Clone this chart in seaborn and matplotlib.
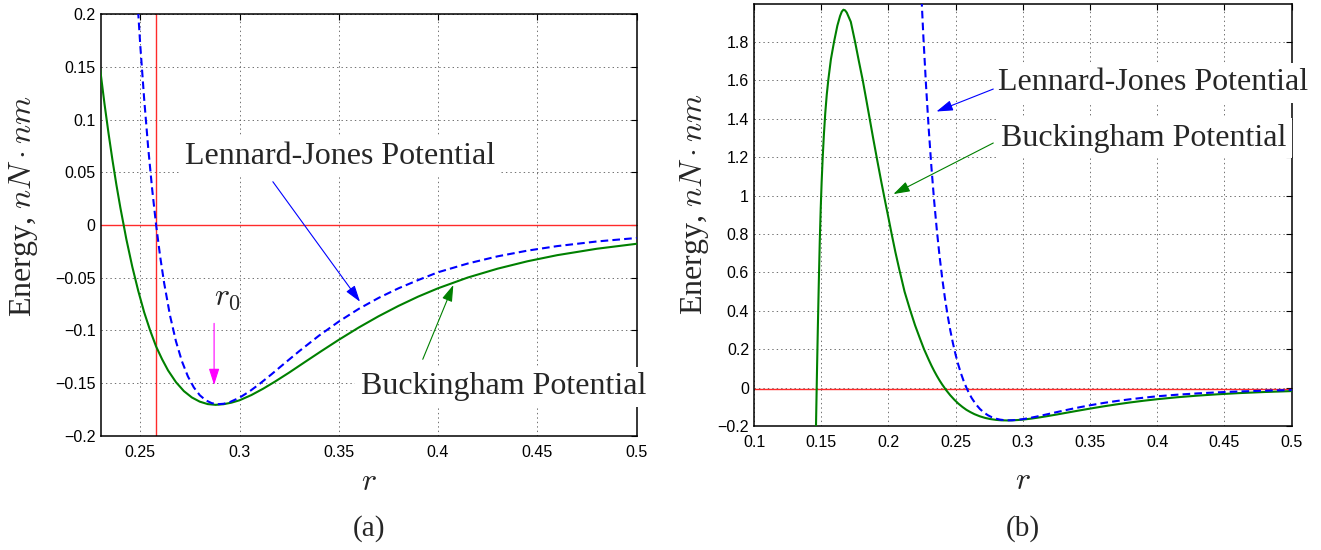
import matplotlib
matplotlib.use("Agg")
import matplotlib.pyplot as plt
from matplotlib.ticker import FixedLocator, FuncFormatter
import pandas as pd
import seaborn as sns

# Separation r (nm) and potential energy (nN*nm) samples of the two potentials
r_lj = [0.224, 0.226, 0.228, 0.230, 0.232, 0.234, 0.236, 0.238, 0.240, 0.242,
        0.244, 0.246, 0.248, 0.250, 0.252, 0.254, 0.256, 0.258, 0.260, 0.262,
        0.265, 0.268, 0.271, 0.274, 0.277, 0.280, 0.283, 0.286, 0.289, 0.292,
        0.295, 0.300, 0.305, 0.310, 0.316, 0.322, 0.330, 0.340, 0.350, 0.360,
        0.370, 0.380, 0.390, 0.400, 0.415, 0.430, 0.445, 0.460, 0.480, 0.500]
e_lj = [2.119, 1.826, 1.570, 1.344, 1.146, 0.973, 0.821, 0.687, 0.570, 0.468,
        0.378, 0.299, 0.231, 0.171, 0.119, 0.0734, 0.0341, 0.0, -0.0294, -0.0546,
        -0.0859, -0.1104, -0.1293, -0.1436, -0.1541, -0.1615, -0.1663, -0.1690, -0.1700, -0.1696,
        -0.1681, -0.1638, -0.1579, -0.1509, -0.1418, -0.1323, -0.1198, -0.1050, -0.0916, -0.0796,
        -0.0692, -0.0601, -0.0522, -0.0448, -0.0365, -0.0297, -0.0243, -0.0200, -0.0156, -0.0123]

r_bk = [0.1452, 0.1461, 0.1468, 0.1475, 0.1482, 0.1489, 0.1496, 0.1503, 0.1511, 0.1520,
        0.1530, 0.1541, 0.1553, 0.1572, 0.1595, 0.1620, 0.1640, 0.1653, 0.1665, 0.1677,
        0.1690, 0.1720, 0.1752, 0.1780, 0.1809, 0.1835, 0.1858, 0.1886, 0.1915, 0.1946,
        0.1977, 0.2000, 0.2024, 0.2052, 0.2081, 0.2120, 0.2161, 0.2198, 0.2235, 0.2265,
        0.2300, 0.2320, 0.2340, 0.2360, 0.2380, 0.2400, 0.2430, 0.2460, 0.2490, 0.2520,
        0.2550, 0.2580, 0.2610, 0.2640, 0.2680, 0.2720, 0.2760, 0.2800, 0.2840, 0.2880,
        0.2920, 0.2960, 0.3000, 0.3060, 0.3120, 0.3180, 0.3250, 0.3330, 0.3410, 0.3500,
        0.3600, 0.3700, 0.3800, 0.3900, 0.4000, 0.4150, 0.4300, 0.4450, 0.4600, 0.4800,
        0.5000]
e_bk = [-0.46, -0.20, 0.07, 0.32, 0.55, 0.76, 0.93, 1.07, 1.20, 1.32,
        1.43, 1.525, 1.605, 1.71, 1.80, 1.885, 1.935, 1.958, 1.968, 1.965,
        1.953, 1.905, 1.80, 1.70, 1.60, 1.50, 1.41, 1.30, 1.19, 1.075,
        0.965, 0.885, 0.80, 0.705, 0.615, 0.50, 0.405, 0.325, 0.255, 0.20,
        0.145, 0.115, 0.0874, 0.0618, 0.0381, 0.0164, -0.0134, -0.0396, -0.0625, -0.0829,
        -0.1001, -0.1153, -0.1273, -0.1379, -0.1491, -0.1576, -0.1636, -0.1676, -0.1699, -0.1706,
        -0.1700, -0.1685, -0.1663, -0.1613, -0.1552, -0.1484, -0.1400, -0.1299, -0.1199, -0.1089,
        -0.0973, -0.0866, -0.0768, -0.0679, -0.0600, -0.0498, -0.0414, -0.0344, -0.0286, -0.0225,
        -0.0178]

sigma_lj = 0.258        # zero crossing of the Lennard-Jones curve
r0_mark = 0.2872        # equilibrium separation r0
baseline_b = -0.008     # reference line of panel (b)

xticks_a = [0.25, 0.3, 0.35, 0.4, 0.45, 0.5]
yticks_a = [-0.2, -0.15, -0.1, -0.05, 0, 0.05, 0.1, 0.15, 0.2]
xticks_b = [0.1, 0.15, 0.2, 0.25, 0.3, 0.35, 0.4, 0.45, 0.5]
yticks_b = [-0.2, 0, 0.2, 0.4, 0.6, 0.8, 1, 1.2, 1.4, 1.6, 1.8]

label_lj = "Lennard-Jones Potential"
label_bk = "Buckingham Potential"

sns.set_theme(context="paper", style="white")
plt.rcParams.update({
    "font.family": ["Liberation Serif", "DejaVu Serif"],
    "mathtext.fontset": "cm",
    "lines.scale_dashes": False,
    "axes.unicode_minus": True,
})

df_lj = pd.DataFrame({"r": r_lj, "energy": e_lj})
df_bk = pd.DataFrame({"r": r_bk, "energy": e_bk})

GREEN = "#008000"
BLUE = "#0000ff"
RED = "#ff2a2a"
MAGENTA = "#ff00ff"
TXT = 23


def fmt(v, pos):
    return ("%g" % v).replace("-", "\u2212")


def style_axes(ax, xlim, ylim, xticks, yticks):
    ax.set_xlim(*xlim)
    ax.set_ylim(*ylim)
    ax.xaxis.set_major_locator(FixedLocator(xticks))
    ax.yaxis.set_major_locator(FixedLocator(yticks))
    ax.xaxis.set_major_formatter(FuncFormatter(fmt))
    ax.yaxis.set_major_formatter(FuncFormatter(fmt))
    ax.set_axisbelow(True)
    ax.grid(True, color="0.35", lw=0.6, linestyle=(0, (1.0, 2.2)))
    ax.tick_params(direction="in", length=4.5, width=0.8, top=True, right=True,
                   labelsize=11.5, labelfontfamily="Liberation Sans", colors="black")
    ax.tick_params(axis="x", pad=6.5)
    ax.tick_params(axis="y", pad=3.6)
    for sp in ax.spines.values():
        sp.set_linewidth(1.1)
        sp.set_color("black")


def curves(ax):
    sns.lineplot(data=df_bk, x="r", y="energy", ax=ax, color=GREEN, lw=1.5,
                 sort=False, estimator=None, zorder=3)
    sns.lineplot(data=df_lj, x="r", y="energy", ax=ax, color=BLUE, lw=1.5,
                 linestyle=(0, (5.5, 3.0)), sort=False, estimator=None, zorder=3.2)


def arrow(ax, tail, tip, color):
    ax.annotate("", xy=tip, xytext=tail, annotation_clip=False, zorder=6,
                arrowprops=dict(arrowstyle="-|>,head_length=10,head_width=3.2",
                                mutation_scale=1, color=color, lw=0.8,
                                shrinkA=0, shrinkB=0))


def label(ax, x, y, s):
    ax.text(x, y, s, fontsize=TXT, ha="left", va="baseline", zorder=5,
            bbox=dict(facecolor="white", edgecolor="none", pad=4))


fig = plt.figure(figsize=(13.21, 5.5), dpi=100)
ax_a = fig.add_axes([0.0761, 0.2076, 0.4058, 0.7665])
ax_b = fig.add_axes([0.5708, 0.2253, 0.4070, 0.7675])

# ---- panel (a): close-up of the potential well ----
ax_a.axhline(0, color=RED, lw=1.0, zorder=2)
ax_a.axvline(sigma_lj, color=RED, lw=1.0, zorder=2)
curves(ax_a)
style_axes(ax_a, (0.23, 0.5), (-0.2, 0.2), xticks_a, yticks_a)
label(ax_a, 0.2726, 0.0576, label_lj)
arrow(ax_a, (0.3168, 0.0411), (0.3607, -0.0728), BLUE)
label(ax_a, 0.3611, -0.1606, label_bk)
arrow(ax_a, (0.3923, -0.1274), (0.4077, -0.0569), GREEN)
ax_a.text(r0_mark, -0.0759, "$r_0$", fontsize=TXT, ha="left", va="baseline", zorder=5,
          transform=ax_a.transData)
arrow(ax_a, (r0_mark, -0.0933), (r0_mark, -0.1518), MAGENTA)

# ---- panel (b): full range ----
ax_b.axhline(baseline_b, color=RED, lw=1.0, zorder=2)
curves(ax_b)
style_axes(ax_b, (0.1, 0.5), (-0.2, 1.998), xticks_b, yticks_b)
label(ax_b, 0.2813, 1.548, label_lj)
arrow(ax_b, (0.2780, 1.555), (0.2357, 1.438), BLUE)
label(ax_b, 0.2838, 1.261, label_bk)
arrow(ax_b, (0.2780, 1.274), (0.2037, 1.008), GREEN)

for ax, lx, ly, xl in ((ax_a, -0.1446, 0.545, -0.0764), (ax_b, -0.110, 0.526, -0.0962)):
    ax.set_xlabel("$r$", fontsize=TXT)
    ax.xaxis.set_label_coords(0.5, xl)
    ax.set_ylabel("Energy, $nN\\cdot nm$", fontsize=TXT, va="center")
    ax.yaxis.set_label_coords(lx, ly)

fig.text(0.2790, 1 - 529 / 550, "(a)", ha="center", va="center", fontsize=21)
fig.text(0.7743, 1 - 529 / 550, "(b)", ha="center", va="center", fontsize=21)

fig.savefig("out.png", dpi=100, facecolor="white")
